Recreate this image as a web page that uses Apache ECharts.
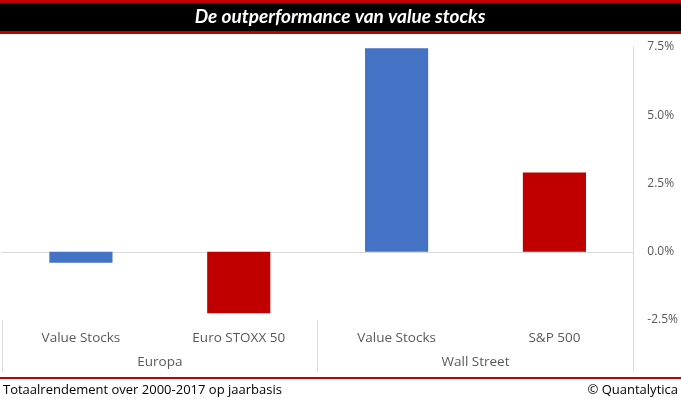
<!DOCTYPE html>
<html>
<head>
<meta charset="utf-8">
<script src="https://cdn.jsdelivr.net/npm/echarts@6/dist/echarts.min.js"></script>
<style>
  html, body { margin: 0; padding: 0; background: #fff; }
  #chart { width: 681px; height: 399px; }
</style>
</head>
<body>
<div id="chart"></div>
<script>
const categories = ['Value Stocks', 'Euro STOXX 50', 'Value Stocks', 'S&P 500']
const groups = ['Europa', 'Wall Street']
const returns = [-0.4, -2.25, 7.45, 2.9]
const barColors = ['#4472C4', '#C00000', '#4472C4', '#C00000']
const yTicks = { min: -2.5, max: 7.5, step: 2.5 }

const font = '"Open Sans", "Noto Sans", sans-serif'
const myChart = echarts.init(document.getElementById('chart'))

const option = {
  animation: false,
  graphic: [
    { type: 'rect', shape: { x: 0, y: 0, width: 681, height: 34 }, style: { fill: '#C00000' } },
    { type: 'rect', shape: { x: 0, y: 3, width: 681, height: 28 }, style: { fill: '#000' } },
    {
      type: 'text', x: 340, y: 17,
      style: {
        text: 'De outperformance van value stocks', fill: '#fff',
        font: 'italic bold 19px Lato, "Open Sans", sans-serif',
        align: 'center', verticalAlign: 'middle'
      }
    },
    { type: 'rect', shape: { x: 0, y: 377, width: 681, height: 2 }, style: { fill: '#C00000' } },
    {
      type: 'text', x: 3, y: 390,
      style: { text: 'Totaalrendement over 2000-2017 op jaarbasis', fill: '#000', font: '13px ' + font, verticalAlign: 'middle' }
    },
    {
      type: 'text', x: 678, y: 390,
      style: { text: '© Quantalytica', fill: '#000', font: '13px ' + font, align: 'right', verticalAlign: 'middle' }
    }
  ],
  grid: { left: 2, right: 44, top: 47, bottom: 79 },
  xAxis: [
    {
      type: 'category',
      data: categories,
      axisLine: { onZero: true, lineStyle: { color: '#d9d9d9', width: 1 } },
      axisTick: { show: false },
      axisLabel: { show: false }
    },
    {
      type: 'category',
      data: categories,
      position: 'bottom',
      axisLine: { show: false },
      axisTick: { show: false },
      axisLabel: { margin: 11, color: '#595959', fontSize: 13.5, fontFamily: font }
    },
    {
      type: 'category',
      data: groups,
      position: 'bottom',
      offset: 52,
      axisLine: { show: false },
      axisTick: { show: true, inside: true, length: 52, lineStyle: { color: '#d9d9d9' } },
      axisLabel: { inside: true, margin: 3, color: '#595959', fontSize: 13.5, fontFamily: font }
    }
  ],
  yAxis: {
    type: 'value',
    position: 'right',
    min: yTicks.min,
    max: yTicks.max,
    interval: yTicks.step,
    axisLine: { show: true, lineStyle: { color: '#d9d9d9' } },
    axisTick: { show: false },
    splitLine: { show: false },
    axisLabel: {
      margin: 14,
      color: '#595959',
      fontSize: 12,
      fontFamily: font,
      formatter: v => v.toFixed(1) + '%'
    }
  },
  series: [
    {
      type: 'bar',
      barWidth: '40%',
      data: returns.map((v, i) => ({ value: v, itemStyle: { color: barColors[i] } }))
    }
  ]
}

myChart.setOption(option)
</script>
</body>
</html>
